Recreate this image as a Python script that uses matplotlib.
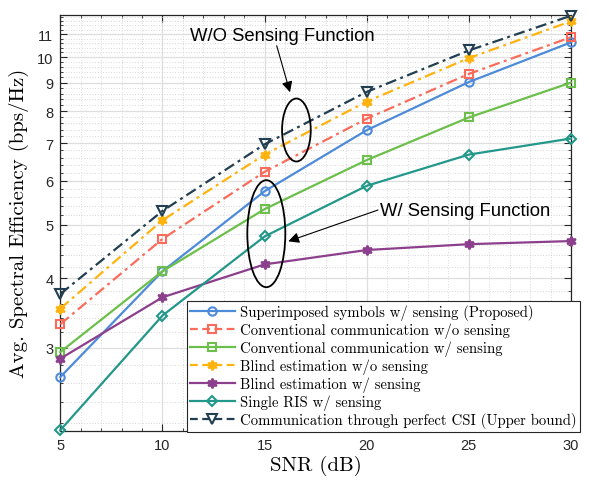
import matplotlib
matplotlib.use("Agg")
import matplotlib.pyplot as plt
from matplotlib.ticker import FixedLocator, FixedFormatter, MultipleLocator, NullFormatter
from matplotlib.patches import Ellipse
from matplotlib.lines import Line2D

# SNR sweep (dB) and average spectral efficiency (bps/Hz) per scheme
snr = [5, 10, 15, 20, 25, 30]
proposed = [2.66, 4.12, 5.74, 7.39, 9.02, 10.63]
conv_wo = [3.31, 4.71, 6.22, 7.75, 9.33, 10.86]
conv_w = [2.95, 4.12, 5.33, 6.53, 7.79, 9.00]
blind_wo = [3.53, 5.09, 6.68, 8.32, 9.96, 11.60]
blind_w = [2.87, 3.70, 4.24, 4.50, 4.61, 4.67]
single_ris = [2.135, 3.43, 4.76, 5.87, 6.68, 7.14]
perfect_csi = [3.75, 5.29, 6.97, 8.66, 10.28, 11.87]

labels = [
    "Superimposed symbols w/ sensing (Proposed)",
    "Conventional communication w/o sensing",
    "Conventional communication w/ sensing",
    "Blind estimation w/o sensing",
    "Blind estimation w/ sensing",
    "Single RIS w/ sensing",
    "Communication through perfect CSI (Upper bound)",
]
y_ticks = [3, 4, 5, 6, 7, 8, 9, 10, 11]
x_ticks = [5, 10, 15, 20, 25, 30]

hexagram = (6, 1, 0)
dashdot = (0, (5, 2, 1.3, 2))
series = [
    (proposed, "#4d8bd9", "-", "o", "none", 6),
    (conv_wo, "#fb6b5b", dashdot, "s", "none", 5.5),
    (conv_w, "#6cbf4a", "-", "s", "none", 5.5),
    (blind_wo, "#ffb30f", dashdot, hexagram, "#ffb30f", 7),
    (blind_w, "#8c3f8c", "-", hexagram, "#8c3f8c", 7),
    (single_ris, "#23978a", "-", "D", "none", 5.2),
    (perfect_csi, "#213f51", dashdot, "v", "none", 6.5),
]

fig = plt.figure(figsize=(5.89, 4.81), dpi=100)
W, H = 589, 481
x0, x1, y0, y1 = 60.3, 571.0, 15.7, 431.7
ax = fig.add_axes([x0 / W, (H - y1) / H, (x1 - x0) / W, (y1 - y0) / H])

handles = []
for vals, col, ls, mk, mfc, ms in series:
    ax.plot(snr, vals, color=col, linestyle=ls, linewidth=1.6,
            marker=mk, markersize=ms, markerfacecolor=mfc,
            markeredgecolor=col, markeredgewidth=1.5, clip_on=False,
            zorder=3)
    handles.append(Line2D([], [], color=col,
                          linestyle="-" if ls == "-" else (0, (3.5, 2)),
                          linewidth=1.6, marker=mk, markersize=ms,
                          markerfacecolor=mfc, markeredgecolor=col,
                          markeredgewidth=1.5))

ax.set_yscale("log")
ax.set_xlim(5, 30)
ax.set_ylim(2.13, 11.92)
ax.xaxis.set_major_locator(FixedLocator(x_ticks))
ax.xaxis.set_minor_locator(MultipleLocator(1))
ax.yaxis.set_major_locator(FixedLocator(y_ticks))
ax.yaxis.set_major_formatter(FixedFormatter([str(v) for v in y_ticks]))
ax.yaxis.set_minor_locator(MultipleLocator(0.2))
ax.yaxis.set_minor_formatter(NullFormatter())

ax.grid(which="major", color="#dedede", linewidth=0.9, linestyle="-")
ax.grid(which="minor", color="#cccccc", linewidth=0.6, linestyle=(0, (1, 2.2)))
ax.set_axisbelow(True)

ax.tick_params(which="both", direction="in", top=True, right=True,
               color="#262626", labelsize=10.5, labelcolor="#262626")
ax.tick_params(which="major", length=5, width=0.8, pad=5)
ax.tick_params(which="minor", length=2.5, width=0.6)
for lab in ax.get_xticklabels() + ax.get_yticklabels():
    lab.set_fontfamily("Liberation Sans")
for sp in ax.spines.values():
    sp.set_color("#262626")
    sp.set_linewidth(0.9)

ax.set_xlabel("SNR (dB)", fontfamily="cmr10", fontsize=15, labelpad=2)
ax.set_ylabel("Avg. Spectral Efficiency (bps/Hz)", fontfamily="cmr10",
              fontsize=15, labelpad=6)

# Group markers around the 15 dB curves
ax.add_patch(Ellipse((0.4623, 0.7228), 0.0562, 0.1514, transform=ax.transAxes,
                     fill=False, edgecolor="black", linewidth=1.3, zorder=5))
ax.add_patch(Ellipse((0.4034, 0.4736), 0.0744, 0.2572, transform=ax.transAxes,
                     fill=False, edgecolor="black", linewidth=1.3, zorder=5))

ax.text(0.434, 0.951, "W/O Sensing Function", transform=ax.transAxes,
        fontfamily="Liberation Sans", fontsize=13.3, ha="center", va="center",
        zorder=6)
ax.annotate("", xy=(0.4498, 0.8135), xytext=(0.4237, 0.9255),
            xycoords="axes fraction", textcoords="axes fraction",
            arrowprops=dict(arrowstyle="-|>", color="black", lw=0.8,
                            mutation_scale=16, shrinkA=0, shrinkB=0), zorder=6)
ax.text(0.7925, 0.5288, "W/ Sensing Function", transform=ax.transAxes,
        fontfamily="Liberation Sans", fontsize=13.3, ha="center", va="center",
        zorder=6)
ax.annotate("", xy=(0.4464, 0.4553), xytext=(0.622, 0.5305),
            xycoords="axes fraction", textcoords="axes fraction",
            arrowprops=dict(arrowstyle="-|>", color="black", lw=0.8,
                            mutation_scale=16, shrinkA=0, shrinkB=0), zorder=6)

leg = fig.legend(handles, labels, loc="upper left",
                 bbox_to_anchor=(186.7 / W, 1 - 301.7 / H),
                 borderaxespad=0, prop={"family": "cmr10", "size": 10.6},
                 handlelength=3.0, handletextpad=0.35, labelspacing=0.16,
                 borderpad=0.25, frameon=True, fancybox=False, framealpha=1)
leg.get_frame().set_edgecolor("#262626")
leg.get_frame().set_linewidth(0.8)

fig.savefig("out.png", dpi=100)
